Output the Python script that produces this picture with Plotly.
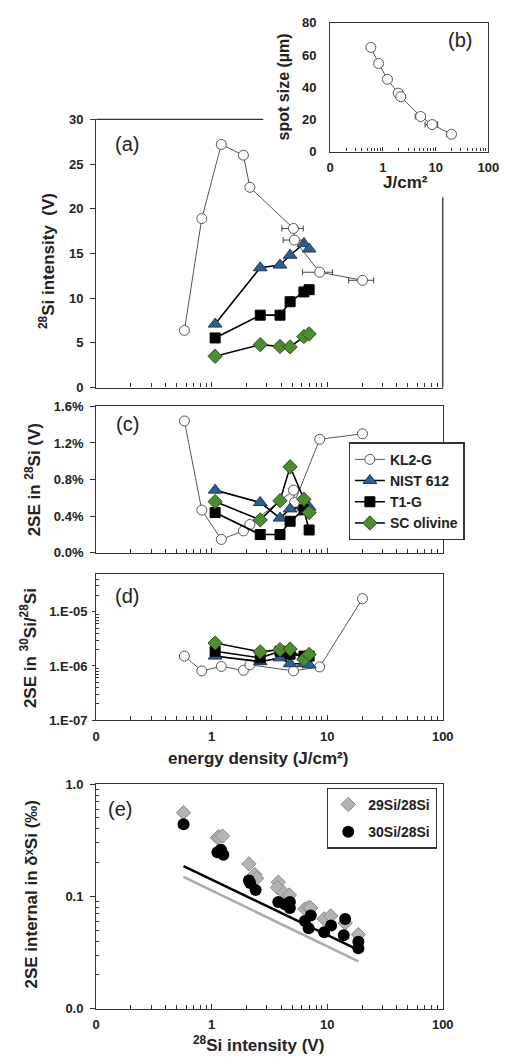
import plotly.graph_objects as go

W, H = 512, 1064
FONT = "Liberation Sans, Arial, sans-serif"

# ---------------- data ----------------
# (a)/(c)/(d): KL2-G
kl2g_ed = [0.58, 0.82, 1.21, 1.88, 2.14, 5.1, 5.2, 8.6, 20.2]
kl2g_ed_err_plus = [0, 0, 0, 0.12, 0.15, 1.1, 1.1, 2.5, 5.0]
kl2g_ed_err_minus = [0, 0, 0, 0.12, 0.15, 1.05, 1.05, 2.5, 4.9]
kl2g_int = [6.4, 18.9, 27.2, 26.0, 22.4, 17.8, 16.5, 12.9, 12.0]
kl2g_2se_pct = [1.44, 0.467, 0.147, 0.24, 0.31, 0.685, 0.55, 1.24, 1.30]
kl2g_2se_ratio = [1.52e-6, 8.1e-7, 9.8e-7, 8.3e-7, 1.05e-6, 8.1e-7, None, 9.6e-7, 1.75e-5]

# other materials share the same energy densities
mat_ed = [1.07, 2.63, 3.9, 4.77, 6.28, 6.97]
nist_int = [7.1, 13.4, 13.7, 14.8, 16.1, 15.5]
t1g_int = [5.55, 8.1, 8.1, 9.6, 10.7, 10.95]
sc_int = [3.5, 4.8, 4.6, 4.55, 5.7, 6.0]

nist_2se_pct = [0.685, 0.55, 0.38, 0.48, 0.50, 0.50]
t1g_2se_pct = [0.44, 0.20, 0.20, 0.345, 0.47, 0.25]
sc_2se_pct = [0.56, 0.36, 0.57, 0.94, 0.585, 0.44]

nist_2se_ratio = [1.52e-6, 1.2e-6, 1.41e-6, 1.1e-6, 1.1e-6, 1.05e-6]
t1g_2se_ratio = [1.87e-6, 1.41e-6, 1.87e-6, 1.65e-6, 1.52e-6, 1.52e-6]
sc_2se_ratio = [2.65e-6, 1.82e-6, 2.0e-6, 2.05e-6, 1.32e-6, 1.63e-6]

# (b) spot size vs energy density
spot_ed = [0.59, 0.83, 1.22, 1.95, 2.18, 5.2, 8.6, 20.0]
spot_ed_err = [0, 0, 0, 0, 0, 1.1, 2.3, 3.6]
spot_size = [64.7, 54.7, 44.9, 36.3, 34.1, 21.8, 16.8, 10.8]

# (e) 2SE internal vs 28Si intensity
si29_int = [0.57, 1.12, 1.15, 1.24, 2.1, 2.36, 2.45, 3.77, 3.7, 4.2, 4.7, 6.4, 6.9, 7.2, 9.4, 10.7, 14.3, 18.6]
si29_2se = [0.557, 0.333, 0.34, 0.345, 0.195, 0.157, 0.145, 0.134, 0.12, 0.108, 0.103, 0.0774, 0.080, 0.079, 0.063, 0.067, 0.058, 0.0458]
si30_int = [0.57, 1.12, 1.2, 1.26, 2.1, 2.15, 2.4, 3.77, 4.3, 4.75, 4.75, 6.4, 6.9, 7.2, 9.4, 10.8, 14.3, 13.9, 18.6, 18.6]
si30_2se = [0.44, 0.248, 0.26, 0.235, 0.139, 0.132, 0.114, 0.089, 0.085, 0.079, 0.089, 0.0603, 0.052, 0.0676, 0.048, 0.055, 0.063, 0.045, 0.0395, 0.0345]
theory30_int = [0.57, 16.9]
theory30_2se = [0.186, 0.035]
theory29_int = [0.57, 18.6]
theory29_2se = [0.149, 0.0264]

x_tickvals = [0.1, 1, 10, 100]
x_ticktext = ["0", "1", "10", "100"]

# ---------------- styling ----------------
BLUE = "#2E5E8E"
GREEN = "#4E8B32"
KLC = "#555555"
AX = "#333333"

minor_log_x = [m * d for d in (0.1, 1, 10) for m in range(2, 10)]


def dom_x(a, b):
    return [a / W, b / W]


def dom_y(top, bottom):
    return [1 - bottom / H, 1 - top / H]


fig = go.Figure()


def mat_traces(xa, ya, ys, showlegend=False):
    specs = [
        ("NIST 612", ys[0], dict(symbol="triangle-up", size=12, color=BLUE, line=dict(color="#1d3b5a", width=1))),
        ("T1-G", ys[1], dict(symbol="square", size=10, color="black", line=dict(color="black", width=1))),
        ("SC olivine", ys[2], dict(symbol="diamond", size=11, color=GREEN, line=dict(color="#2d5419", width=1))),
    ]
    for name, yv, mk in specs:
        fig.add_trace(go.Scatter(
            x=mat_ed, y=yv, mode="lines+markers", name=name, marker=mk,
            line=dict(color="black", width=1.6), xaxis=xa, yaxis=ya,
            showlegend=showlegend, connectgaps=True))


def kl2_trace(xa, ya, yv, showlegend=False, err=False):
    kw = {}
    if err:
        kw["error_x"] = dict(type="data", symmetric=False, array=kl2g_ed_err_plus,
                             arrayminus=kl2g_ed_err_minus, color="#444", thickness=1, width=3)
    fig.add_trace(go.Scatter(
        x=kl2g_ed, y=yv, mode="lines+markers", name="KL2-G",
        marker=dict(symbol="circle", size=10, color="white", line=dict(color=KLC, width=1)),
        line=dict(color=KLC, width=1), xaxis=xa, yaxis=ya, showlegend=showlegend,
        connectgaps=True, **kw))


# (a)
mat_traces("x", "y", [nist_int, t1g_int, sc_int])
kl2_trace("x", "y", kl2g_int, err=True)
# (c)
kl2_trace("x3", "y3", kl2g_2se_pct, showlegend=True)
mat_traces("x3", "y3", [nist_2se_pct, t1g_2se_pct, sc_2se_pct], showlegend=True)
# (d)
kl2_trace("x4", "y4", kl2g_2se_ratio)
mat_traces("x4", "y4", [t1g_2se_ratio, nist_2se_ratio, sc_2se_ratio][1:2] + [t1g_2se_ratio] + [sc_2se_ratio])
# (b)
fig.add_trace(go.Scatter(
    x=spot_ed, y=spot_size, mode="lines+markers",
    marker=dict(symbol="circle", size=10, color="white", line=dict(color=KLC, width=1)),
    line=dict(color=KLC, width=1), xaxis="x2", yaxis="y2", showlegend=False,
    error_x=dict(type="data", array=spot_ed_err, color="#444", thickness=1, width=3)))
# (e)
fig.add_trace(go.Scatter(x=theory29_int, y=theory29_2se, mode="lines",
                         line=dict(color="#aaaaaa", width=2.5), xaxis="x5", yaxis="y5", showlegend=False))
fig.add_trace(go.Scatter(x=theory30_int, y=theory30_2se, mode="lines",
                         line=dict(color="black", width=2.5), xaxis="x5", yaxis="y5", showlegend=False))
fig.add_trace(go.Scatter(x=si29_int, y=si29_2se, mode="markers", name="29Si/28Si",
                         marker=dict(symbol="diamond", size=11, color="#b3b3b3", line=dict(color="#8a8a8a", width=1)),
                         xaxis="x5", yaxis="y5", legend="legend2", legendgroup="g29"))
fig.add_trace(go.Scatter(x=si30_int, y=si30_2se, mode="markers", name="30Si/28Si",
                         marker=dict(symbol="circle", size=12, color="black"),
                         xaxis="x5", yaxis="y5", legend="legend2", legendgroup="g30"))

tickfont = dict(family=FONT, size=13, color="#222", weight="bold")


def xlog(domain, anchor, labels, mirror=True):
    return dict(type="log", range=[-1, 2], domain=domain, anchor=anchor,
                tickmode="array", tickvals=x_tickvals, ticktext=x_ticktext,
                showticklabels=labels, ticks="inside", ticklen=5, tickcolor=AX,
                minor=dict(ticks="inside", ticklen=4, tickvals=minor_log_x, tickcolor=AX),
                showline=True, linecolor=AX, linewidth=1.3, mirror=mirror,
                showgrid=False, zeroline=False, tickfont=tickfont, ticklabelstandoff=4)


fig.update_layout(
    width=W, height=H, margin=dict(l=0, r=0, t=0, b=0),
    paper_bgcolor="white", plot_bgcolor="white",
    font=dict(family=FONT, color="#222"),
    xaxis=xlog(dom_x(95, 452), "y", False, mirror=False),
    yaxis=dict(domain=dom_y(114, 386), anchor="x", range=[0, 30], dtick=5,
               ticks="outside", ticklen=5, tickcolor=AX, showline=True, linecolor=AX,
               linewidth=1.3, showgrid=False, zeroline=False, tickfont=tickfont,
               ticklabelstandoff=4),
    xaxis2=dict(type="log", range=[-1, 2], domain=dom_x(336, 499), anchor="y2",
                tickmode="array", tickvals=x_tickvals, ticktext=x_ticktext,
                ticks="inside", ticklen=4, tickcolor=AX,
                minor=dict(ticks="inside", ticklen=3, tickvals=minor_log_x, tickcolor=AX),
                showline=True, linecolor=AX, linewidth=1.3, mirror=True,
                showgrid=False, zeroline=False, tickfont=tickfont, ticklabelstandoff=4),
    yaxis2=dict(domain=dom_y(16, 146.7), anchor="x2", range=[0, 80], dtick=20,
                ticks="", showline=True, linecolor=AX, linewidth=1.3, mirror=True,
                showgrid=False, zeroline=False, tickfont=tickfont, ticklabelstandoff=10),
    xaxis3=xlog(dom_x(95, 452), "y3", False),
    yaxis3=dict(domain=dom_y(405, 553.7), anchor="x3", range=[0, 1.6], dtick=0.4,
                tickformat=".1f", ticksuffix="%",
                ticks="outside", ticklen=5, tickcolor=AX, showline=True, linecolor=AX,
                linewidth=1.3, mirror=True, showgrid=False, zeroline=False,
                tickfont=tickfont, ticklabelstandoff=4),
    xaxis4=xlog(dom_x(95, 452), "y4", True),
    yaxis4=dict(type="log", domain=dom_y(575, 723.3), anchor="x4", range=[-7, -4.3],
                tickmode="array", tickvals=[1e-7, 1e-6, 1e-5],
                ticktext=["1.E-07", "1.E-06", "1.E-05"],
                ticks="outside", ticklen=3, tickcolor=AX,
                minor=dict(ticks="inside", ticklen=3, tickcolor=AX,
                           tickvals=[m * d for d in (1e-7, 1e-6, 1e-5) for m in range(2, 10)]),
                showline=True, linecolor=AX, linewidth=1.3, mirror=True,
                showgrid=False, zeroline=False, tickfont=tickfont, ticklabelstandoff=2),
    xaxis5=xlog(dom_x(95, 452), "y5", True),
    yaxis5=dict(type="log", domain=dom_y(788.3, 1016), anchor="x5", range=[-2, 0],
                tickmode="array", tickvals=[0.01, 0.1, 1], ticktext=["0.0", "0.1", "1.0"],
                ticks="outside", ticklen=5, tickcolor=AX,
                minor=dict(ticks="inside", ticklen=3, tickcolor=AX,
                           tickvals=[m * d for d in (0.01, 0.1) for m in range(2, 10)]),
                showline=True, linecolor=AX, linewidth=1.3, mirror=True,
                showgrid=False, zeroline=False, tickfont=tickfont, ticklabelstandoff=4),
    legend=dict(x=355 / W, y=1 - 441.7 / H, xanchor="left", yanchor="top",
                bgcolor="white", bordercolor=AX, borderwidth=1.3, itemwidth=30,
                font=dict(family=FONT, size=14, color="#222", weight="bold"),
                traceorder="normal"),
    legend2=dict(x=332.7 / W, y=1 - 791.7 / H, xanchor="left", yanchor="top",
                 bgcolor="white", bordercolor=AX, borderwidth=1.3, itemwidth=30,
                 tracegroupgap=6,
                 font=dict(family=FONT, size=14, color="#222", weight="bold"),
                 traceorder="grouped"),
)

# partial frame of (a): top and right edges interrupted by inset (b)
fig.add_shape(type="line", xref="x domain", yref="y domain", x0=0, x1=0.482, y0=1, y1=1,
              line=dict(color=AX, width=1.3))
fig.add_shape(type="line", xref="x domain", yref="y domain", x0=1, x1=1, y0=0, y1=0.7096,
              line=dict(color=AX, width=1.3))


def ann(text, x, y, size, bold=True, angle=0):
    fig.add_annotation(text=text, x=x / W, y=1 - y / H, xref="paper", yref="paper",
                       showarrow=False, textangle=angle, xanchor="center", yanchor="middle",
                       font=dict(family=FONT, size=size, color="#222",
                                 weight="bold" if bold else "normal"))


# panel labels
ann("(a)", 127, 139, 20, bold=False)
ann("(b)", 470, 33, 20, bold=False)
ann("(c)", 127, 423, 20, bold=False)
ann("(d)", 127, 597, 20, bold=False)
ann("(e)", 119, 813, 20, bold=False)

# axis titles
ann("<sup>28</sup>Si intensity  (V)", 45, 258, 17, angle=-90)
ann("spot size (µm)", 288, 81, 16, angle=-90)
ann("J/cm²", 414, 178, 17)
ann("2SE in <sup>28</sup>Si (V)", 30, 480, 17, angle=-90)
ann("2SE in <sup>30</sup>Si/<sup>28</sup>Si", 25, 650, 17, angle=-90)
ann("energy density (J/cm²)", 262, 762, 17)
ann("2SE internal in δˣSi (‰)", 28, 900, 17, angle=-90)
ann("<sup>28</sup>Si intensity (V)", 262, 1052, 17)

fig.write_html("out.html")
